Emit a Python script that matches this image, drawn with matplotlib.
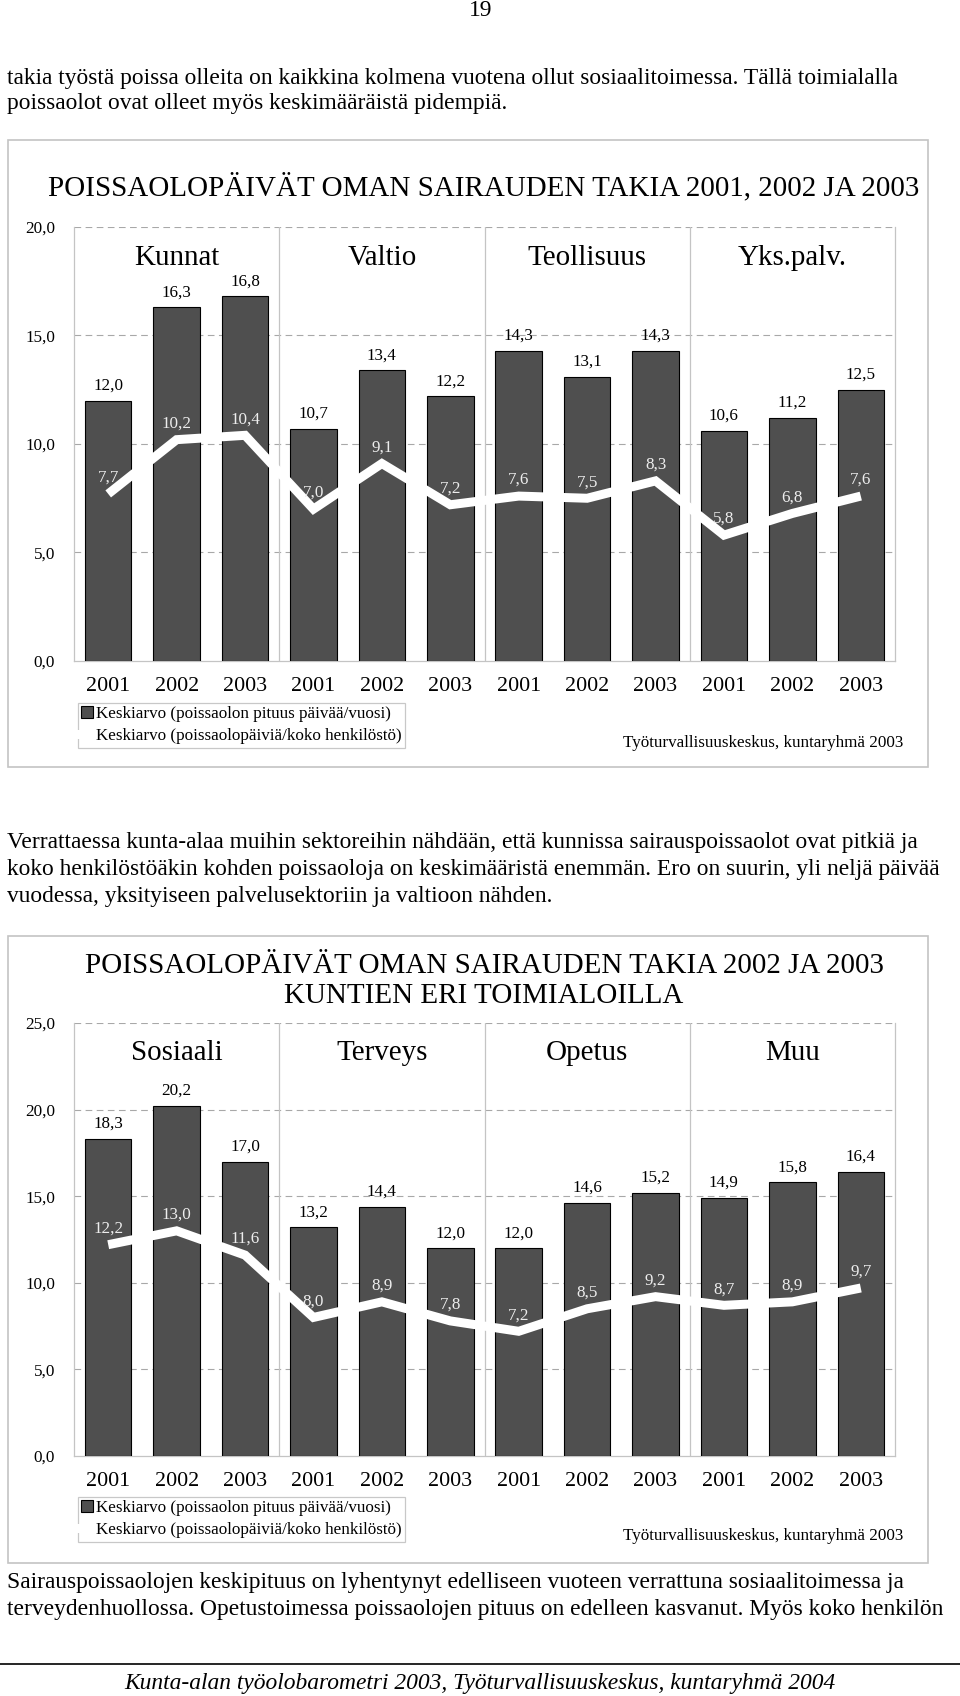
import matplotlib
matplotlib.use("Agg")
import matplotlib.pyplot as plt
from matplotlib.patches import Rectangle
from matplotlib.lines import Line2D
from matplotlib.ticker import FuncFormatter

# ---------------- data ----------------
years = ["2001", "2002", "2003"] * 4

groups1 = ["Kunnat", "Valtio", "Teollisuus", "Yks.palv."]
bars1 = [12.0, 16.3, 16.8, 10.7, 13.4, 12.2, 14.3, 13.1, 14.3, 10.6, 11.2, 12.5]
line1 = [7.7, 10.2, 10.4, 7.0, 9.1, 7.2, 7.6, 7.5, 8.3, 5.8, 6.8, 7.6]
title1 = "POISSAOLOPÄIVÄT OMAN SAIRAUDEN TAKIA 2001, 2002 JA 2003"
yticks1 = [0, 5, 10, 15, 20]

groups2 = ["Sosiaali", "Terveys", "Opetus", "Muu"]
bars2 = [18.3, 20.2, 17.0, 13.2, 14.4, 12.0, 12.0, 14.6, 15.2, 14.9, 15.8, 16.4]
line2 = [12.2, 13.0, 11.6, 8.0, 8.9, 7.8, 7.2, 8.5, 9.2, 8.7, 8.9, 9.7]
title2 = "POISSAOLOPÄIVÄT OMAN SAIRAUDEN TAKIA 2002 JA 2003\nKUNTIEN ERI TOIMIALOILLA"
yticks2 = [0, 5, 10, 15, 20, 25]

legend_labels = ["Keskiarvo (poissaolon pituus päivää/vuosi)",
                 "Keskiarvo (poissaolopäiviä/koko henkilöstö)"]
source = "Työturvallisuuskeskus, kuntaryhmä 2003"

page_no = "19"
para1 = ["takia työstä poissa olleita on kaikkina kolmena vuotena ollut sosiaalitoimessa. Tällä toimialalla",
         "poissaolot ovat olleet myös keskimääräistä pidempiä."]
para2 = ["Verrattaessa kunta-alaa muihin sektoreihin nähdään, että kunnissa sairauspoissaolot ovat pitkiä ja",
         "koko henkilöstöäkin kohden poissaoloja on keskimääristä enemmän. Ero on suurin, yli neljä päivää",
         "vuodessa, yksityiseen palvelusektoriin ja valtioon nähden."]
para3 = ["Sairauspoissaolojen keskipituus on lyhentynyt edelliseen vuoteen verrattuna sosiaalitoimessa ja",
         "terveydenhuollossa. Opetustoimessa poissaolojen pituus on edelleen kasvanut. Myös koko henkilön"]
footer = "Kunta-alan työolobarometri 2003, Työturvallisuuskeskus, kuntaryhmä 2004"

# ---------------- layout helpers ----------------
W, H = 960, 1696
DPI = 100
SERIF = ["Liberation Serif", "DejaVu Serif"]
plt.rcParams["font.family"] = SERIF


def fx(x):
    return x / W


def fy(y):
    return 1 - y / H


def pt(px):
    return px * 72 / DPI


fig = plt.figure(figsize=(W / DPI, H / DPI), dpi=DPI)
fig.patch.set_facecolor("white")

BAR_COLOR = "#4f4f4f"
GRID_COLOR = "#a8a8a8"
FRAME_COLOR = "#c4c4c4"


def comma(v, pos=None):
    return f"{v:.1f}".replace(".", ",")


def draw_chart(frame_top, frame_bottom, ax_top, ax_bottom, ymax, yticks,
               groups, bars, line, title, title_y, group_y, legend_top, source_y):
    # outer frame
    fig.add_artist(Rectangle((fx(8), fy(frame_bottom)), fx(928) - fx(8),
                             fy(frame_top) - fy(frame_bottom),
                             transform=fig.transFigure, fill=False,
                             edgecolor=FRAME_COLOR, linewidth=1.2))
    ax = fig.add_axes([fx(74), fy(ax_bottom), fx(895) - fx(74), fy(ax_top) - fy(ax_bottom)])
    ax.set_xlim(0, 12)
    ax.set_ylim(0, ymax)
    ax.set_facecolor("white")
    xs = [i + 0.5 for i in range(len(bars))]
    ax.bar(xs, bars, width=0.68, color=BAR_COLOR, edgecolor="black",
           linewidth=0.8, zorder=3, label=legend_labels[0])
    ax.plot(xs, line, color="white", linewidth=pt(9), zorder=4,
            solid_joinstyle="miter", solid_capstyle="butt", label=legend_labels[1])
    for x, b in zip(xs, bars):
        ax.annotate(comma(b), (x, b), xytext=(0, pt(15)), textcoords="offset points",
                    ha="center", va="center", fontsize=pt(17), color="black", zorder=6)
    for x, v in zip(xs, line):
        ax.annotate(comma(v), (x, v), xytext=(0, pt(16)), textcoords="offset points",
                    ha="center", va="center", fontsize=pt(17), color="#ededed", zorder=6)
    # grid
    for t in yticks[1:]:
        ax.axhline(t, color=GRID_COLOR, linewidth=0.8, linestyle=(0, (6, 4)), zorder=1)
    for sep in (3, 6, 9):
        ax.axvline(sep, color=FRAME_COLOR, linewidth=0.9, zorder=1)
    ax.spines["top"].set_visible(False)
    for side in ("left", "right", "bottom"):
        ax.spines[side].set_color(FRAME_COLOR)
        ax.spines[side].set_linewidth(0.9)
    ax.set_yticks(yticks)
    ax.yaxis.set_major_formatter(FuncFormatter(comma))
    ax.set_xticks(xs)
    ax.set_xticklabels(years)
    ax.tick_params(axis="y", length=0, pad=pt(19), labelsize=pt(17))
    ax.tick_params(axis="x", length=0, pad=pt(16), labelsize=pt(22))
    # group labels
    for gi, g in enumerate(groups):
        ax.text(gi * 3 + 1.5, (ax_bottom - group_y) / (ax_bottom - ax_top) * ymax, g,
                ha="center", va="center", fontsize=pt(29), zorder=6)
    # title
    fig.text(fx(484), fy(title_y), title, ha="center", va="center",
             fontsize=pt(29), linespacing=1.2)
    # legend
    handles = [Rectangle((0, 0), 1, 1, facecolor=BAR_COLOR, edgecolor="black", linewidth=0.8),
               Line2D([0], [0], color="white", linewidth=pt(9))]
    leg = fig.legend(handles, legend_labels, loc="upper left",
                     bbox_to_anchor=(fx(78), fy(legend_top)), bbox_transform=fig.transFigure,
                     frameon=True, fancybox=False, edgecolor="#bbbbbb", fontsize=pt(17),
                     handlelength=0.7, handleheight=0.7, handletextpad=0.15,
                     borderpad=0.2, labelspacing=0.35, borderaxespad=0)
    leg.get_frame().set_linewidth(0.9)
    fig.text(fx(903), fy(source_y), source, ha="right", va="center", fontsize=pt(17))
    return ax


draw_chart(frame_top=140, frame_bottom=767, ax_top=227, ax_bottom=661, ymax=20,
           yticks=yticks1, groups=groups1, bars=bars1, line=line1, title=title1,
           title_y=187, group_y=258, legend_top=703, source_y=743)

draw_chart(frame_top=936, frame_bottom=1563, ax_top=1023, ax_bottom=1456, ymax=25,
           yticks=yticks2, groups=groups2, bars=bars2, line=line2, title=title2,
           title_y=981, group_y=1053, legend_top=1497, source_y=1536)

# ---------------- page text ----------------
fs_body = pt(23.5)
fig.text(fx(481), fy(10), page_no, ha="center", va="center", fontsize=fs_body)


def paragraph(lines, first_baseline, spacing):
    for i, ln in enumerate(lines):
        fig.text(fx(7), fy(first_baseline + i * spacing), ln, ha="left",
                 va="baseline", fontsize=fs_body)


paragraph(para1, 84, 25)
paragraph(para2, 848, 27)
paragraph(para3, 1588, 27)

fig.add_artist(Line2D([0, 1], [fy(1664), fy(1664)], transform=fig.transFigure,
                      color="black", linewidth=1.2))
fig.text(0.5, fy(1684), footer, ha="center", va="center", fontsize=fs_body, style="italic")

fig.savefig("out.png", dpi=DPI, facecolor="white")
